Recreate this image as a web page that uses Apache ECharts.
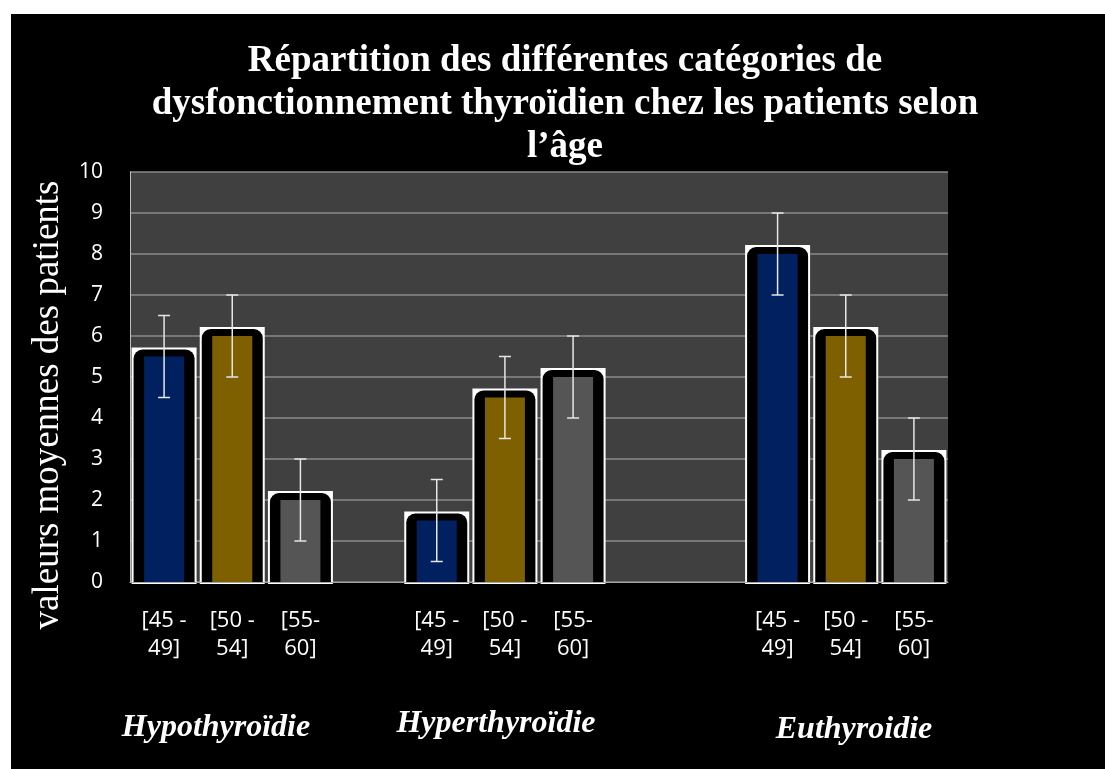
<!DOCTYPE html>
<html>
<head>
<meta charset="utf-8">
<script src="https://cdn.jsdelivr.net/npm/echarts@6/dist/echarts.min.js"></script>
<style>
html,body{margin:0;padding:0;background:#fff;}
#chart{width:1105px;height:769px;}
</style>
</head>
<body>
<div id="chart"></div>
<script>
// ---- data ----
const groups = ['Hypothyroïdie', 'Hyperthyroïdie', 'Euthyroidie'];
const ageLabels = ['[45 -\n49]', '[50 -\n54]', '[55-\n60]'];
const vals_45_49 = [5.5, 1.5, 8];
const vals_50_54 = [6, 4.5, 6];
const vals_55_60 = [2, 5, 3];
const err_45_49 = [1, 1, 1];
const err_50_54 = [1, 1, 1];
const err_55_60 = [1, 1, 1];
const yTicks = [0, 1, 2, 3, 4, 5, 6, 7, 8, 9, 10];
// slot where each group starts on the category axis (blank slots separate the groups)
const groupStart = [0, 4, 9];
const slotCount = 12;

const seriesVals = [vals_45_49, vals_50_54, vals_55_60];
const seriesErr = [err_45_49, err_50_54, err_55_60];
const colors = ['#002060', '#7f6000', '#555555'];

const slotLabels = [];
for (let i = 0; i < slotCount; i++) slotLabels.push('');
groupStart.forEach(g => ageLabels.forEach((l, k) => { slotLabels[g + k] = l; }));

function renderItem(params, api) {
  const x = api.value(0), v = api.value(1), lo = api.value(2), hi = api.value(3);
  const top = api.coord([x, v]);
  const base = api.coord([x, 0]);
  const pLo = api.coord([x, lo]);
  const pHi = api.coord([x, hi]);
  const cx = top[0];
  const color = api.visual('color');
  const wOuter = 65, wBlack = 61, wInner = 40;
  const children = [
    { type: 'rect', shape: { x: cx - wOuter / 2, y: top[1] - 9, width: wOuter, height: base[1] - top[1] + 11 }, style: { fill: '#ffffff' } },
    { type: 'rect', shape: { x: cx - wBlack / 2, y: top[1] - 7, width: wBlack, height: base[1] - top[1] + 7, r: [9, 9, 0, 0] }, style: { fill: '#000000' } },
    { type: 'rect', shape: { x: cx - wInner / 2, y: top[1], width: wInner, height: base[1] - top[1] }, style: { fill: color } },
    { type: 'line', shape: { x1: cx, y1: pLo[1], x2: cx, y2: pHi[1] }, style: { stroke: '#e6e6e6', lineWidth: 1.5 } },
    { type: 'line', shape: { x1: cx - 6, y1: pLo[1], x2: cx + 6, y2: pLo[1] }, style: { stroke: '#e6e6e6', lineWidth: 1.5 } },
    { type: 'line', shape: { x1: cx - 6, y1: pHi[1], x2: cx + 6, y2: pHi[1] }, style: { stroke: '#e6e6e6', lineWidth: 1.5 } }
  ];
  return { type: 'group', children: children };
}

const series = seriesVals.map((vals, s) => ({
  type: 'custom',
  name: ageLabels[s],
  renderItem: renderItem,
  itemStyle: { color: colors[s] },
  encode: { x: 0, y: 1 },
  data: vals.map((v, i) => [groupStart[i] + s, v, v - seriesErr[s][i], v + seriesErr[s][i]]),
  clip: false,
  z: 3
}));

const groupLabelPos = [[216, 728], [496, 724], [854, 730]];

const chart = echarts.init(document.getElementById('chart'), null, { renderer: 'canvas' });
chart.setOption({
  animation: false,
  backgroundColor: '#ffffff',
  grid: { left: 130, right: 157, top: 172, bottom: 187, show: true, backgroundColor: '#404040', borderWidth: 0 },
  xAxis: {
    type: 'category',
    data: slotLabels,
    axisLine: { show: true, lineStyle: { color: '#a6a6a6', width: 1 } },
    axisTick: { show: false },
    axisLabel: { color: '#ffffff', fontFamily: 'Open Sans', fontSize: 22, lineHeight: 28, margin: 25, interval: 0, align: 'center' },
    splitLine: { show: false },
    z: 4
  },
  yAxis: {
    type: 'value',
    min: yTicks[0], max: yTicks[yTicks.length - 1], interval: 1,
    axisLine: { show: true, lineStyle: { color: '#bfbfbf', width: 1 } },
    axisTick: { show: false },
    axisLabel: { color: '#ffffff', fontFamily: 'Open Sans', fontSize: 21, margin: 27 },
    splitLine: { show: true, lineStyle: { color: '#8a8a8a', width: 1.5 } }
  },
  graphic: [
    { type: 'rect', z: -10, silent: true, shape: { x: 11, y: 14, width: 1094, height: 755 }, style: { fill: '#000000' } },
    { type: 'text', z: 10, x: 565, y: 40, style: {
      text: 'Répartition des différentes catégories de\ndysfonctionnement thyroïdien chez les patients selon\nl’âge',
      fill: '#ffffff', font: 'bold 37px "Liberation Serif", "Times New Roman", serif', align: 'center', lineHeight: 43 } },
    { type: 'text', z: 10, x: 48, y: 405, rotation: Math.PI / 2, style: {
      text: 'valeurs moyennes des patients', fill: '#ffffff', font: '37px "Liberation Serif", "Times New Roman", serif',
      align: 'center', verticalAlign: 'middle' } }
  ].concat(groups.map((g, i) => ({
    type: 'text', z: 10, x: groupLabelPos[i][0], y: groupLabelPos[i][1], style: {
      text: g, fill: '#ffffff', font: 'italic bold 32px "Liberation Serif", "Times New Roman", serif', align: 'center', verticalAlign: 'middle' }
  }))),
  series: series
});
</script>
</body>
</html>
